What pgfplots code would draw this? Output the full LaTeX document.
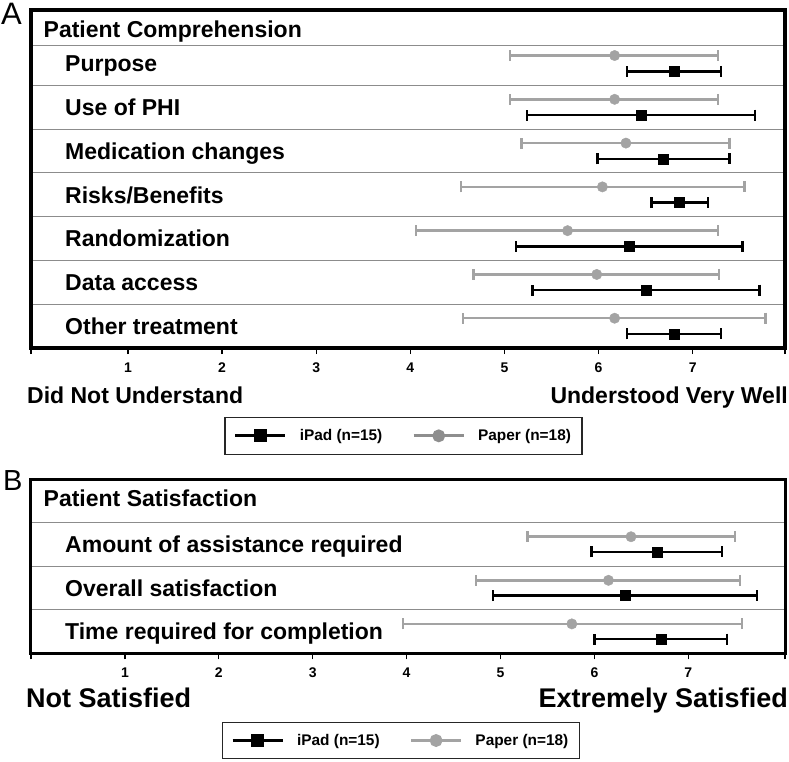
\documentclass[border=0pt]{standalone}
\usepackage{fontspec}
\setmainfont{Liberation Sans}
\usepackage{pgfplots}
\usepackage{pgfplotstable}
\pgfplotsset{compat=1.18}
\definecolor{paper}{HTML}{A3A3A3}
\definecolor{paperleg}{HTML}{8E8E8E}
\definecolor{sepline}{HTML}{8C8C8C}

% row 1 = top row; m = mean, lo/hi = ends of the bar
\pgfplotstableread{
row m lo hi
1 6.17 5.06 7.27
2 6.17 5.06 7.27
3 6.29 5.18 7.39
4 6.04 4.54 7.55
5 5.67 4.06 7.27
6 5.98 4.67 7.28
7 6.17 4.56 7.77
}\compPaper
\pgfplotstableread{
row m lo hi
1 6.80 6.30 7.30
2 6.45 5.24 7.66
3 6.69 5.99 7.39
4 6.86 6.56 7.16
5 6.33 5.12 7.53
6 6.51 5.30 7.71
7 6.80 6.30 7.30
}\compIpad
\pgfplotstableread{
row m lo hi
1 6.39 5.29 7.50
2 6.15 4.74 7.55
3 5.76 3.96 7.57
}\satPaper
\pgfplotstableread{
row m lo hi
1 6.67 5.97 7.36
2 6.33 4.92 7.73
3 6.71 6.00 7.41
}\satIpad

\tikzset{
  rowlabel/.style={anchor=base west, inner sep=0pt, yshift=-8.4pt,
    font=\bfseries\fontsize{23}{23}\selectfont},
}

\pgfplotsset{
  panel/.style={
    scale only axis, width=754pt,
    y dir=reverse,
    xtick={1,...,7},
    xtick pos=bottom, tick align=outside,
    major tick length=6pt,
    xtick style={line width=1.4pt, black},
    xticklabel style={font=\bfseries\fontsize{14}{14}\selectfont},
    xticklabel shift=5pt,
    /pgf/number format/assume math mode=true,
    yticklabels={}, ytick style={draw=none},
    ymajorgrids, grid style={sepline, line width=0.9pt},
    clip=false,
    legend columns=2,
    legend image code/.code={
      \draw[mark repeat=2,mark phase=2,#1] plot coordinates {(0pt,0pt) (25pt,0pt) (50pt,0pt)};},
    legend style={draw=black!85, line width=1.1pt, anchor=north,
      font=\bfseries\fontsize{15.4}{16}\selectfont,
      inner xsep=9pt, inner ysep=10pt, cells={anchor=west},
      /tikz/every even column/.append style={column sep=28pt},
      /tikz/every odd column/.append style={column sep=11pt}},
  },
  paperbar/.style={only marks, mark=*, mark size=5.2pt, color=paper,
    mark options={fill=paper, draw=paper},
    error bars/.cd, x dir=both, x explicit, error mark=|,
    error bar style={line width=2.5pt, paper},
    error mark options={paper, line width=2.5pt, mark size=5.5pt},
    /pgfplots/.cd},
  ipadbar/.style={only marks, mark=square*, mark size=5pt, color=black,
    mark options={fill=black, draw=black},
    error bars/.cd, x dir=both, x explicit, error mark=|,
    error bar style={line width=2.5pt, black},
    error mark options={black, line width=2.5pt, mark size=5.5pt},
    /pgfplots/.cd},
}

\begin{document}
\begin{tikzpicture}
\useasboundingbox (0pt,0pt) rectangle (789pt,761pt);

% ---------- A: comprehension ----------
\begin{axis}[panel,
  at={(31pt,413pt)}, anchor=south west, height=338pt,
  xmin=-0.03, xmax=7.98, ymin=-0.22, ymax=7.5,
  extra x ticks={-0.03,7.98}, extra x tick labels={},
  ytick={0.6,1.5,2.5,3.5,4.5,5.5,6.5},
  axis line style={line width=3.4pt},
  legend style={at={(axis description cs:0.494,-0.204)}},
]
\addplot[forget plot, paperbar] table[x=m, y expr=\thisrow{row}-0.18,
  x error minus expr=\thisrow{m}-\thisrow{lo},
  x error plus expr=\thisrow{hi}-\thisrow{m}] {\compPaper};
\addplot[forget plot, ipadbar] table[x=m, y expr=\thisrow{row}+0.18,
  x error minus expr=\thisrow{m}-\thisrow{lo},
  x error plus expr=\thisrow{hi}-\thisrow{m}] {\compIpad};
\addlegendimage{black, line width=2.8pt, mark=square*, mark size=5pt, mark options={solid, fill=black}}
\addlegendentry{iPad (n=15)}
\addlegendimage{paperleg, line width=2.8pt, mark=*, mark size=5pt, mark options={solid, fill=paperleg}}
\addlegendentry{Paper (n=18)}

\node[rowlabel, xshift=12.5pt] at (axis cs:-0.03,0.22) {Patient Comprehension};
\node[rowlabel, xshift=34pt] at (axis cs:-0.03,1) {Purpose};
\node[rowlabel, xshift=34pt] at (axis cs:-0.03,2) {Use of PHI};
\node[rowlabel, xshift=34pt] at (axis cs:-0.03,3) {Medication changes};
\node[rowlabel, xshift=34pt] at (axis cs:-0.03,4) {Risks/Benefits};
\node[rowlabel, xshift=34pt] at (axis cs:-0.03,5) {Randomization};
\node[rowlabel, xshift=34pt] at (axis cs:-0.03,6) {Data access};
\node[rowlabel, xshift=34pt] at (axis cs:-0.03,7) {Other treatment};
\end{axis}

% ---------- B: satisfaction ----------
\begin{axis}[panel,
  at={(31pt,107.7pt)}, anchor=south west, height=174.3pt,
  xmin=0, xmax=8.03, ymin=-0.5, ymax=3.5,
  extra x ticks={0,8.03}, extra x tick labels={},
  ytick={0.5,1.5,2.5},
  axis line style={line width=3pt},
  legend style={at={(axis description cs:0.4905,-0.392)}},
]
\addplot[forget plot, paperbar] table[x=m, y expr=\thisrow{row}-0.175,
  x error minus expr=\thisrow{m}-\thisrow{lo},
  x error plus expr=\thisrow{hi}-\thisrow{m}] {\satPaper};
\addplot[forget plot, ipadbar] table[x=m, y expr=\thisrow{row}+0.175,
  x error minus expr=\thisrow{m}-\thisrow{lo},
  x error plus expr=\thisrow{hi}-\thisrow{m}] {\satIpad};
\addlegendimage{black, line width=2.8pt, mark=square*, mark size=5pt, mark options={solid, fill=black}}
\addlegendentry{iPad (n=15)}
\addlegendimage{paper, line width=2.8pt, mark=*, mark size=5pt, mark options={solid, fill=paper}}
\addlegendentry{Paper (n=18)}

\node[rowlabel, xshift=12.5pt] at (axis cs:0,-0.06) {Patient Satisfaction};
\node[rowlabel, xshift=34pt] at (axis cs:0,1) {Amount of assistance required};
\node[rowlabel, xshift=34pt] at (axis cs:0,2) {Overall satisfaction};
\node[rowlabel, xshift=34pt] at (axis cs:0,3) {Time required for completion};
\end{axis}

% scale ends and panel letters
\node[anchor=base west, inner sep=0pt, font=\bfseries\fontsize{23}{23}\selectfont] at (27pt,357.6pt) {Did Not Understand};
\node[anchor=base east, inner sep=0pt, font=\bfseries\fontsize{23}{23}\selectfont] at (788pt,357.6pt) {Understood Very Well};
\node[anchor=base west, inner sep=0pt, font=\bfseries\fontsize{27}{27}\selectfont] at (26pt,53.2pt) {Not Satisfied};
\node[anchor=base east, inner sep=0pt, font=\bfseries\fontsize{27}{27}\selectfont] at (788pt,53.2pt) {Extremely Satisfied};
\node[anchor=base west, inner sep=0pt, font=\fontsize{31}{31}\selectfont] at (1pt,736pt) {A};
\node[anchor=base west, inner sep=0pt, font=\fontsize{29}{29}\selectfont] at (3pt,271pt) {B};
\end{tikzpicture}
\end{document}
